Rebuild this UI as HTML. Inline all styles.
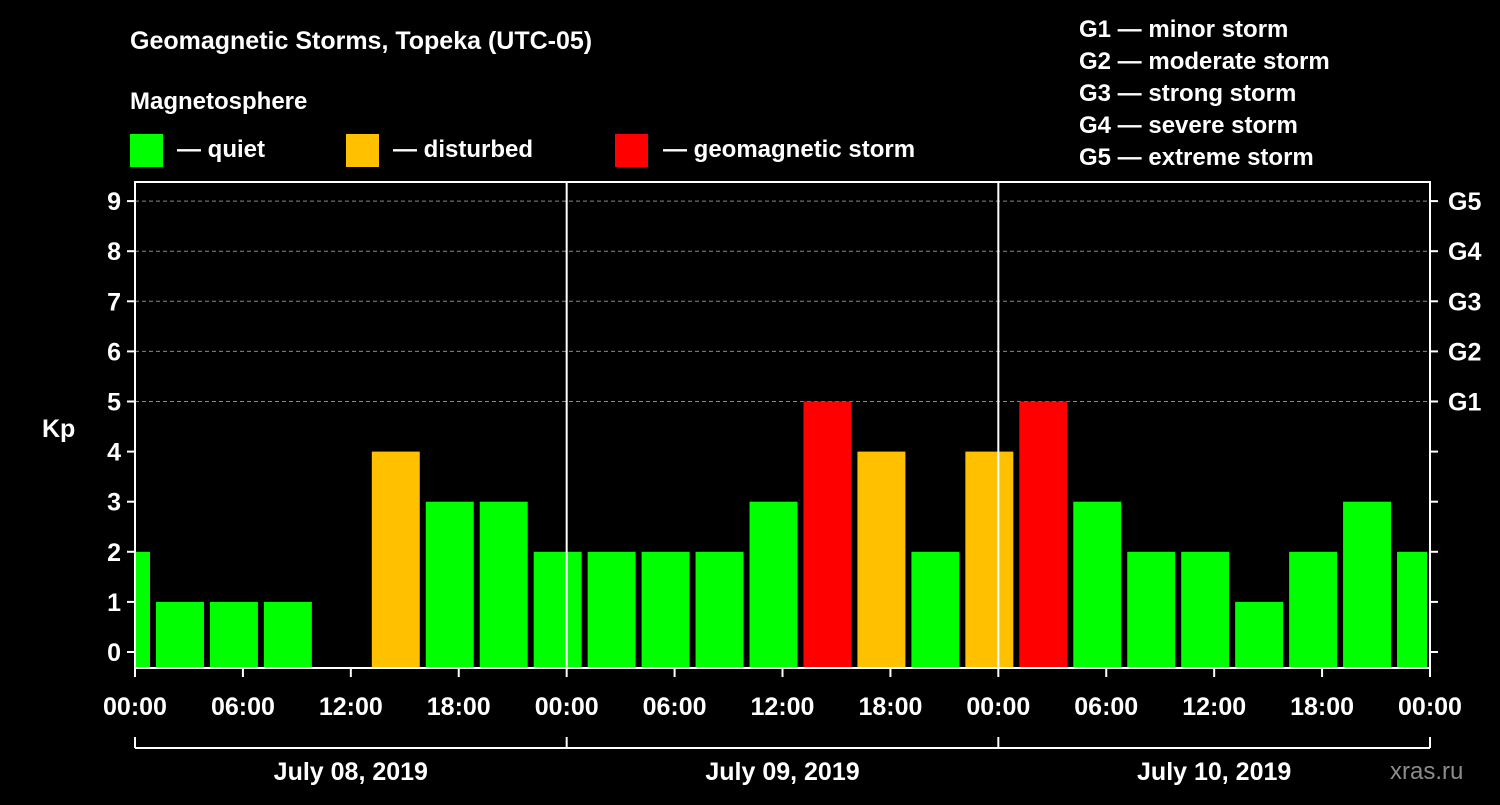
<!DOCTYPE html>
<html><head><meta charset="utf-8"><style>
body{margin:0;background:#000;width:1500px;height:800px;overflow:hidden}
svg text{font-family:"Liberation Sans",Arial,sans-serif;font-weight:bold;fill:#fff}
</style></head><body>
<svg id="chart" width="1500" height="800" viewBox="0 0 1500 800" xmlns="http://www.w3.org/2000/svg">
<rect width="1500" height="800" fill="#000"/>
<text x="130" y="49" font-size="25">Geomagnetic Storms, Topeka (UTC-05)</text>
<text x="130" y="109" font-size="24">Magnetosphere</text>
<rect x="130" y="134" width="33" height="33" fill="#00ff00"/>
<text x="177" y="157" font-size="24">— quiet</text>
<rect x="346" y="134" width="33" height="33" fill="#ffc000"/>
<text x="393" y="157" font-size="24">— disturbed</text>
<rect x="615" y="134" width="33" height="33" fill="#ff0000"/>
<text x="663" y="157" font-size="24">— geomagnetic storm</text>
<g font-size="24">
<text x="1079" y="37">G1 — minor storm</text>
<text x="1079" y="69">G2 — moderate storm</text>
<text x="1079" y="101">G3 — strong storm</text>
<text x="1079" y="133">G4 — severe storm</text>
<text x="1079" y="165">G5 — extreme storm</text>
</g>
<text x="42" y="437" font-size="25">Kp</text>
<text x="1390" y="779" font-size="24" fill="#888" style="fill:#8c8c8c;font-weight:normal">xras.ru</text>
<g id="grid"></g><g id="bars"></g><g id="axes"></g>
</svg>
<script>
const startHours=[-2,1,4,7,10,13,16,19,22,25,28,31,34,37,40,43,46,49,52,55,58,61,64,67,70];
const kpValues=[2,1,1,1,null,4,3,3,2,2,2,2,3,5,4,2,4,5,3,2,2,1,2,3,2];
const yTicks=[0,1,2,3,4,5,6,7,8,9];
const gLabels=["G1","G2","G3","G4","G5"];
const xTickLabels=["00:00","06:00","12:00","18:00","00:00","06:00","12:00","18:00","00:00","06:00","12:00","18:00","00:00"];
const dayLabels=["July 08, 2019","July 09, 2019","July 10, 2019"];
const L=135,R=1430,T=182,B=668,H0=0,H1=72;
const x=h=>L+(h-H0)*(R-L)/(H1-H0);
const y=k=>652-k*50.1;
const NS="http://www.w3.org/2000/svg";
function mk(tag,attrs,parent,txt){const e=document.createElementNS(NS,tag);for(const k in attrs)e.setAttribute(k,attrs[k]);if(txt!==undefined)e.textContent=txt;document.getElementById(parent).appendChild(e);return e;}
for(let k=5;k<=9;k++){const g=mk('line',{x1:L,x2:R,y1:y(k),y2:y(k),stroke:'#888','stroke-dasharray':'4,3','stroke-width':1},'grid');

}
startHours.forEach((h,i)=>{const v=kpValues[i];if(v===null||v===undefined)return;
const a=Math.max(h,H0),b=Math.min(h+3,H1);const x0=x(a)+(h<H0?0:3),x1=x(b)-3;
const c=v>=5?'#ff0000':v>=4?'#ffc000':'#00ff00';
const r=mk('rect',{x:x0,y:y(v),width:x1-x0,height:B-y(v),fill:c},'bars');

});
const f=mk('rect',{x:L,y:T,width:R-L,height:B-T,fill:'none',stroke:'#fff','stroke-width':2},'axes');


[24,48].forEach(h=>{const l=mk('line',{x1:x(h),x2:x(h),y1:T,y2:B,stroke:'#fff','stroke-width':2},'axes');

});
yTicks.forEach(k=>{mk('line',{x1:L-8,x2:L,y1:y(k),y2:y(k),stroke:'#fff','stroke-width':2},'axes');
mk('line',{x1:R,x2:R+8,y1:y(k),y2:y(k),stroke:'#fff','stroke-width':2},'axes');
const t=mk('text',{x:L-14,y:y(k)+9,'text-anchor':'end','font-size':25},'axes',String(k));

});
gLabels.forEach((g,i)=>{const t=mk('text',{x:R+18,y:y(5+i)+9,'font-size':25},'axes',g);

});
xTickLabels.forEach((s,i)=>{const h=i*6;mk('line',{x1:x(h),x2:x(h),y1:B,y2:B+9,stroke:'#fff','stroke-width':2},'axes');
const t=mk('text',{x:x(h),y:715,'text-anchor':'middle','font-size':25},'axes',s);

});
const br=mk('line',{x1:L,x2:R,y1:748,y2:748,stroke:'#fff','stroke-width':2},'axes');


[0,24,48,72].forEach(h=>mk('line',{x1:x(h),x2:x(h),y1:737,y2:748,stroke:'#fff','stroke-width':2},'axes'));
dayLabels.forEach((d,i)=>{const t=mk('text',{x:x(i*24+12),y:780,'text-anchor':'middle','font-size':25},'axes',d);

});
</script>
</body></html>
